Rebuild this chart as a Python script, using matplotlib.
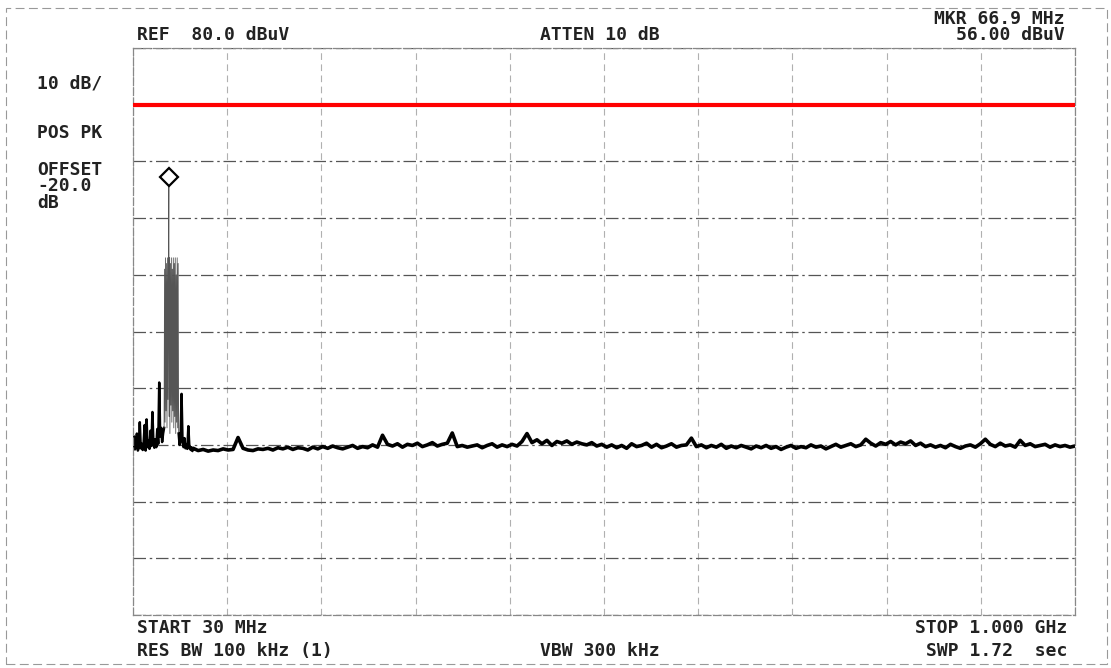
import numpy as np
import matplotlib
matplotlib.use('Agg')
import matplotlib.pyplot as plt
from matplotlib.patches import Rectangle

# sweep settings
f_start = 30.0
f_stop = 1000.0
ref_level = 80.0
limit_db = 70.0
mkr_f = 66.9
mkr_db = 56.0

# low part of trace, left of the carrier (MHz, dBuV)
left_f = [30, 31, 32, 33, 34, 35, 36, 37, 38, 39, 40, 41, 42, 43, 44, 45, 46,
          47, 48, 49, 50, 51, 52, 53, 54, 55, 56, 57, 58, 59, 60, 61, 62]
left_db = [9.8, 11.5, 9.2, 10.0, 12.0, 9.0, 9.5, 14.0, 9.4, 10.2, 9.1, 10.5,
           13.5, 9.0, 14.5, 9.6, 10.8, 9.3, 12.5, 9.8, 15.8, 10.4, 9.5, 11.0,
           9.6, 12.8, 10.2, 21.0, 11.5, 13.0, 10.5, 12.0, 13.0]

# carrier band (dense hatch of lines)
band_f = [62.0, 62.5, 63.0, 63.5, 64.0, 64.5, 65.0, 65.5, 66.0, 66.5, 66.9,
          67.3, 67.5, 68.0, 68.5, 69.0, 69.5, 70.0, 70.5, 71.0, 71.5, 72.0,
          72.5, 73.0, 73.5, 74.0, 74.5, 75.0, 75.5, 76.0, 76.5, 77.0]
band_db = [13, 41, 14, 43, 16, 42, 13, 43, 18, 41, 56, 15, 43, 12, 42, 17, 43,
           14, 41, 16, 43, 13, 42, 15, 43, 12, 40, 14, 43, 13, 42, 12]

# right of the carrier
right_f = [77, 78, 79, 80, 81, 82, 83, 84, 85, 86, 87, 88, 89, 90, 91]
right_db = [12, 10.0, 11.0, 19.0, 10.5, 9.6, 11.2, 9.4, 10.0, 9.3, 13.3, 9.8,
            9.2, 9.6, 9.1]

# noise floor 92 MHz .. 1 GHz
floor_db = [
    9.4, 9.0, 9.2, 8.9, 9.1, 9.0, 9.3, 9.1, 9.2, 11.3,
    9.4, 9.1, 9.0, 9.3, 9.2, 9.4, 9.1, 9.5, 9.3, 9.6,
    9.2, 9.5, 9.4, 9.1, 9.6, 9.3, 9.7, 9.4, 9.8, 9.5,
    9.3, 9.6, 9.9, 9.4, 9.7, 9.5, 10.0, 9.6, 11.7, 10.1,
    9.8, 10.2, 9.6, 10.1, 9.9, 10.3, 9.7, 10.0, 10.4, 9.8,
    10.1, 10.3, 12.1, 9.7, 9.9, 9.6, 9.8, 10.0, 9.5, 9.9,
    10.2, 9.6, 10.0, 9.7, 10.1, 9.8, 10.6, 12.0, 10.4, 10.9,
    10.2, 10.8, 9.9, 10.6, 10.3, 10.7, 10.1, 10.5, 10.2, 10.0,
    10.4, 9.8, 10.1, 9.6, 10.0, 9.5, 9.9, 9.4, 10.2, 9.7,
    9.9, 10.3, 9.6, 10.1, 9.5, 9.8, 10.2, 9.6, 9.9, 10.0,
    11.2, 9.7, 10.0, 9.5, 9.9, 9.6, 10.1, 9.4, 9.8, 9.5,
    9.9, 9.6, 9.3, 9.8, 9.5, 9.9, 9.4, 9.7, 9.2, 9.6,
    9.9, 9.4, 9.7, 9.5, 10.0, 9.6, 9.8, 9.3, 9.7, 10.1,
    9.6, 9.9, 10.2, 9.7, 10.0, 11.0, 10.3, 9.8, 10.4, 10.1,
    10.6, 10.0, 10.5, 10.2, 10.7, 9.9, 10.3, 9.7, 10.0, 9.6,
    9.9, 9.5, 10.1, 9.7, 9.4, 9.8, 10.0, 9.6, 10.2, 11.0,
    10.1, 9.7, 10.3, 9.8, 10.0, 9.6, 10.8, 9.9, 10.2, 9.7,
    9.9, 10.1, 9.6, 10.0, 9.7, 9.9, 9.6, 9.8]
floor_f = np.linspace(92, f_stop, len(floor_db))

fig = plt.figure(figsize=(11.11, 6.68), dpi=100)
fig.patch.set_facecolor('white')
ax = fig.add_axes([133/1111, 1-615/668, (1075-133)/1111, (615-48)/668])
ax.set_xlim(f_start, f_stop)
ax.set_ylim(ref_level-100, ref_level)
ax.set_xticks(np.linspace(f_start, f_stop, 11))
ax.set_yticks(np.arange(ref_level-100, ref_level+1, 10))
ax.tick_params(length=0, labelbottom=False, labelleft=False)
ax.yaxis.grid(True, color='#555555', lw=0.9, linestyle=(0, (10, 3, 2, 3)))
ax.xaxis.grid(True, color='#b0b0b0', lw=0.8, linestyle=(0, (6, 4)))
for s in ax.spines.values():
    s.set_color('#888888')
    s.set_linestyle((0, (6, 2)))
    s.set_linewidth(0.9)

ax.axhline(limit_db, color='#ff0000', lw=3, zorder=5)

ax.plot(left_f, left_db, color='black', lw=1.8)
ax.plot(band_f, band_db, color='#555555', lw=0.6)
ax.plot(right_f, right_db, color='black', lw=1.8)
ax.plot(np.concatenate([[right_f[-1]], floor_f]),
        np.concatenate([[right_db[-1]], floor_db]), color='black', lw=2.6)
ax.plot([mkr_f, mkr_f], [mkr_db, mkr_db+1.2], color='black', lw=1.2)
ax.plot(mkr_f, mkr_db+1.2, marker='D', ms=9, mfc='white', mec='black', mew=1.6)

fig.add_artist(Rectangle((6/1111, 1-664/668), 1101/1111, 656/668, fill=False,
                         ec='#999999', lw=0.8, ls=(0, (8, 4)),
                         transform=fig.transFigure))

kw = dict(family='DejaVu Sans Mono', fontweight='bold', fontsize=13,
          color='#222222', va='center')
def T(x, y, s, ha='left'):
    fig.text(x/1111, 1-y/668, s, ha=ha, **kw)

T(137, 35, 'REF  80.0 dBuV')
T(540, 35, 'ATTEN 10 dB')
T(1065, 19, 'MKR 66.9 MHz', 'right')
T(1065, 35, '56.00 dBuV', 'right')
T(37, 84, '10 dB/')
T(37, 133, 'POS PK')
T(37, 170, 'OFFSET')
T(37, 186, '-20.0')
T(37, 203, 'dB')
T(137, 628, 'START 30 MHz')
T(137, 651, 'RES BW 100 kHz (1)')
T(540, 651, 'VBW 300 kHz')
T(1067, 628, 'STOP 1.000 GHz', 'right')
T(1067, 651, 'SWP 1.72  sec', 'right')

fig.savefig('out.png', dpi=100)
